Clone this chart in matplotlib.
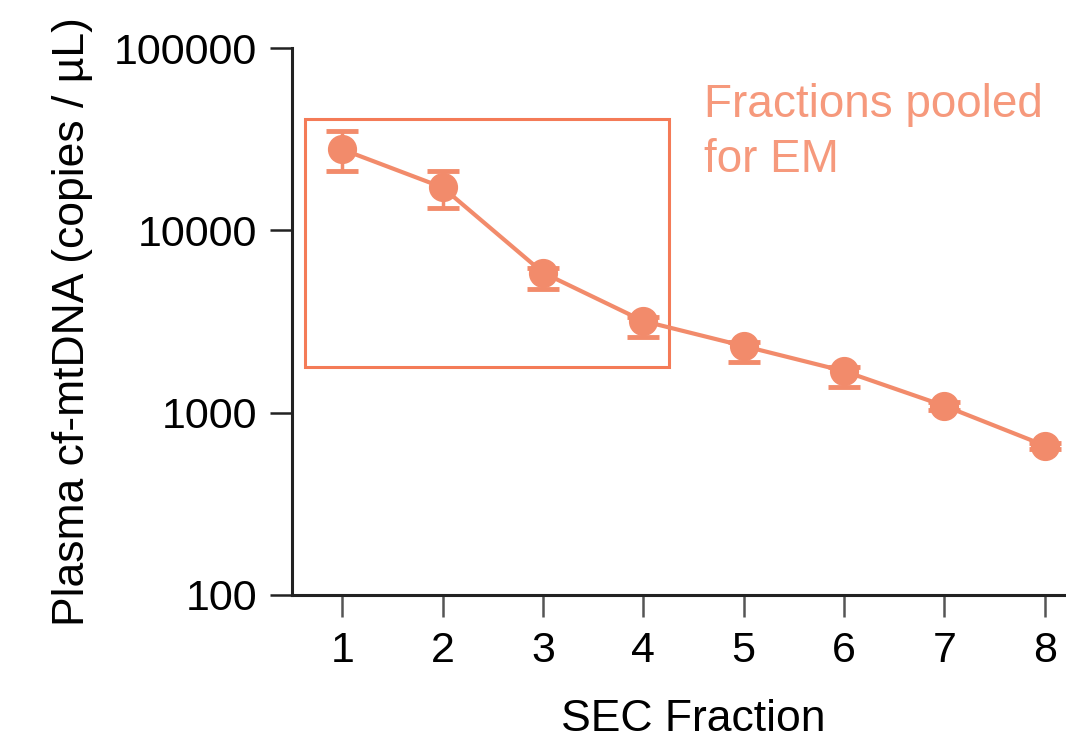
import numpy as np
import matplotlib.pyplot as plt
from matplotlib.patches import Rectangle

# 数据
fractions = [1, 2, 3, 4, 5, 6, 7, 8]
copies = [27800, 17200, 5860, 3180, 2320, 1690, 1090, 660]
err_low = [6600, 4000, 1070, 570, 415, 300, 50, 25]
err_high = [7200, 4000, 350, 180, 130, 90, 50, 25]
y_ticks = [100, 1000, 10000, 100000]
y_tick_labels = ["100", "1000", "10000", "100000"]
pooled = [1, 2, 3, 4]

line_color = '#F28B6B'
box_color = '#F47B57'
text_color = '#F6997C'

plt.rcParams['font.family'] = ['Liberation Sans', 'DejaVu Sans']

fig = plt.figure(figsize=(10.66, 7.38), dpi=100)
ax = fig.add_axes([292 / 1066, 143 / 738, 803 / 1066, 547 / 738])

ax.errorbar(fractions, copies, yerr=[err_low, err_high], color=line_color, lw=3,
            marker='o', markersize=20, elinewidth=2.5, capsize=11.5, capthick=3.5,
            zorder=3)

ax.set_yscale('log')
ax.set_ylim(100, 100000)
ax.set_xlim(0.5, 8.5)
ax.yaxis.set_major_locator(plt.FixedLocator(y_ticks))
ax.yaxis.set_minor_locator(plt.NullLocator())
ax.set_yticks(y_ticks, y_tick_labels)
ax.set_xticks(fractions, [str(f) for f in fractions])

# 框出用于电镜的组分
x0 = pooled[0] - 0.37
x1 = pooled[-1] + 0.26
ax.add_patch(Rectangle((x0, 1790), x1 - x0, 40700 - 1790, fill=False,
                       edgecolor=box_color, lw=2.2, zorder=2))
ax.text(4.6, 64000, "Fractions pooled\nfor EM", color=text_color, fontsize=33,
        ha='left', va='top', linespacing=1.3)

for s in ['top', 'right']:
    ax.spines[s].set_visible(False)
for s in ['left', 'bottom']:
    ax.spines[s].set_linewidth(2.2)
    ax.spines[s].set_color('#222222')

ax.tick_params(axis='y', length=16, width=1.8, pad=9, labelsize=31, colors='#222222')
ax.tick_params(axis='y', labelcolor='black')
ax.tick_params(axis='x', length=16, width=1.8, pad=10, labelsize=31, color='#555555',
               labelcolor='black')

ax.set_xlabel("SEC Fraction", fontsize=32, labelpad=20)
ax.set_ylabel("Plasma cf-mtDNA (copies / µL)", fontsize=32, labelpad=15)

plt.savefig("out.png", dpi=100)
